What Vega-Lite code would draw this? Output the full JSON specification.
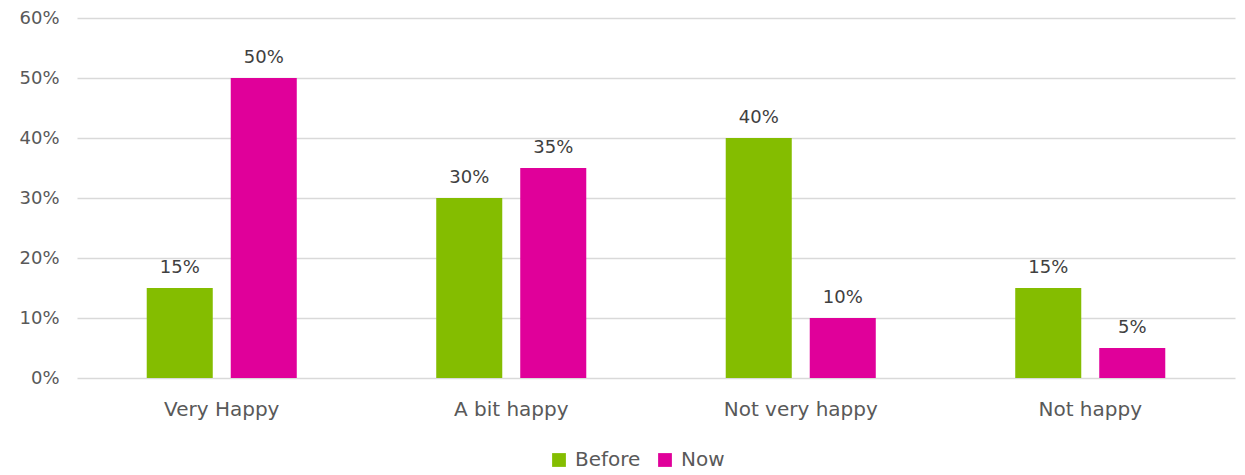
{
  "$schema": "https://vega.github.io/schema/vega-lite/v6.json",
  "width": 1158,
  "height": 360,
  "autosize": {"type": "none"},
  "padding": {"left": 77, "top": 18, "right": 10, "bottom": 97},
  "background": "white",
  "config": {
    "view": {"stroke": null},
    "font": "DejaVu Sans",
    "axis": {"labelFont": "DejaVu Sans", "labelColor": "#595959", "labelFontSize": 18, "domain": false, "ticks": false, "title": null},
    "legend": {"labelFont": "DejaVu Sans", "labelColor": "#595959", "labelFontSize": 20}
  },
  "data": {
    "values": [
      {"category": "Very Happy", "series": "Before", "value": 0.15},
      {"category": "Very Happy", "series": "Now", "value": 0.50},
      {"category": "A bit happy", "series": "Before", "value": 0.30},
      {"category": "A bit happy", "series": "Now", "value": 0.35},
      {"category": "Not very happy", "series": "Before", "value": 0.40},
      {"category": "Not very happy", "series": "Now", "value": 0.10},
      {"category": "Not happy", "series": "Before", "value": 0.15},
      {"category": "Not happy", "series": "Now", "value": 0.05}
    ]
  },
  "encoding": {
    "x": {
      "field": "category", "type": "nominal",
      "sort": ["Very Happy", "A bit happy", "Not very happy", "Not happy"],
      "scale": {"paddingInner": 0, "paddingOuter": 0},
      "axis": {"labelAngle": 0, "labelPadding": 21, "grid": false, "labelFontSize": 20}
    },
    "xOffset": {
      "field": "series", "type": "nominal",
      "scale": {"paddingInner": 0.214, "paddingOuter": 0.83}
    },
    "y": {
      "field": "value", "type": "quantitative",
      "scale": {"domain": [0, 0.6]},
      "axis": {"format": ".0%", "tickCount": 6, "grid": true, "gridColor": "#d9d9d9", "gridWidth": 1.5, "labelPadding": 18}
    }
  },
  "layer": [
    {
      "mark": {"type": "bar"},
      "encoding": {
        "color": {
          "field": "series", "type": "nominal",
          "scale": {"domain": ["Before", "Now"], "range": ["#84BD00", "#E0009A"]},
          "legend": {"orient": "none", "legendX": 472, "legendY": 432, "direction": "horizontal", "title": null, "symbolType": "square", "symbolSize": 190, "labelOffset": 6, "columnPadding": 14, "symbolStrokeWidth": 0}
        }
      }
    },
    {
      "mark": {"type": "text", "baseline": "bottom", "dy": -11, "fontSize": 18, "color": "#404040"},
      "encoding": {
        "text": {"field": "value", "type": "quantitative", "format": ".0%"}
      }
    }
  ]
}
